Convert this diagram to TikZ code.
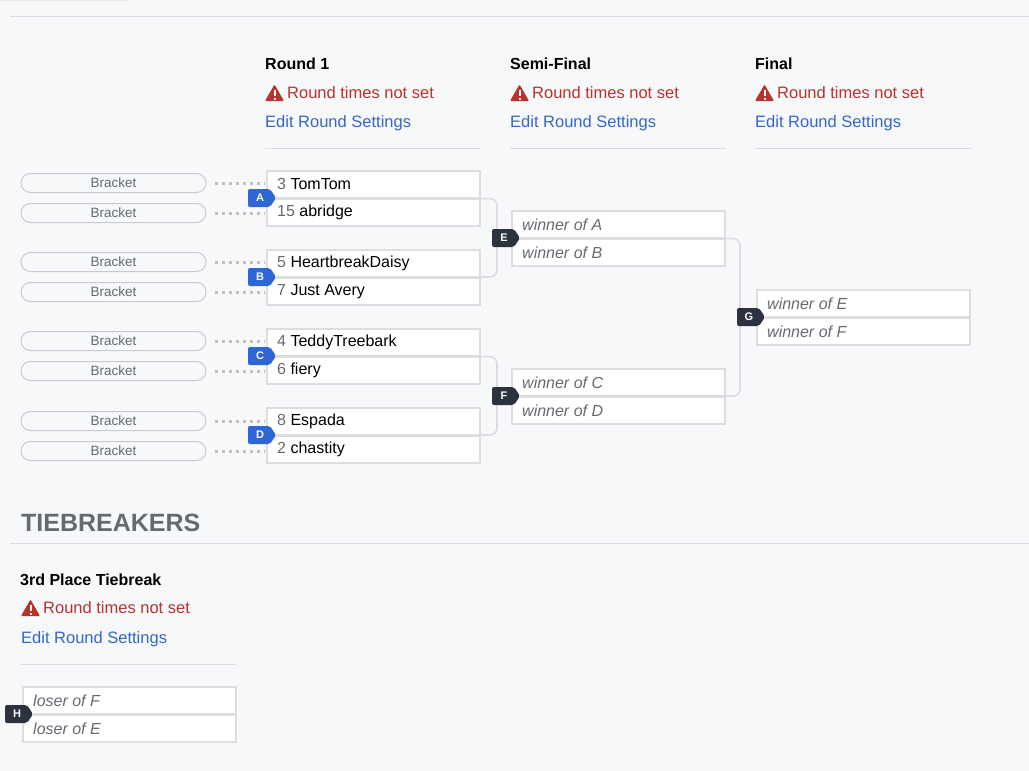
\documentclass[tikz,border=0pt]{standalone}
\usepackage{fontspec}
\setmainfont{Liberation Sans}
\usetikzlibrary{calc}
\definecolor{bg}{HTML}{F7F8FA}
\definecolor{warn}{HTML}{B8332E}
\definecolor{lnk}{HTML}{3567C8}
\definecolor{bd}{HTML}{DCDDE0}
\definecolor{blu}{HTML}{2E66D6}
\definecolor{drk}{HTML}{2C3240}
\definecolor{gtx}{HTML}{666A70}
\tikzset{
  row/.style={draw=bd,line width=1.6pt,fill=white,minimum width=213pt,minimum height=27pt,inner sep=0pt},
  pname/.style={anchor=west,inner sep=0pt,font=\fontsize{16}{16}\selectfont},
  tbd/.style={anchor=west,inner sep=0pt,font=\fontsize{16}{16}\selectfont\itshape,text=gtx},
  pill/.style={draw=bd!80!gray,line width=1pt,rounded corners=9.5pt,fill=bg,minimum width=185pt,minimum height=19pt,inner sep=0pt,font=\fontsize{13.5}{13.5}\selectfont,text=gtx},
  dots/.style={draw=bd!70!gray,line width=3pt,dash pattern=on 3pt off 4pt},
  conn/.style={draw=bd,line width=1.6pt,rounded corners=7pt},
  ttl/.style={anchor=west,inner sep=0pt,font=\fontsize{16}{16}\selectfont\bfseries},
  wtxt/.style={anchor=west,inner sep=0pt,font=\fontsize{16.5}{16.5}\selectfont,text=warn},
  edit/.style={anchor=west,inner sep=0pt,font=\fontsize{16.5}{16.5}\selectfont,text=lnk},
  sep/.style={draw=bd,line width=1pt}}
\newcommand{\mkbadge}[4]{%
  \fill[#4,rounded corners=2pt] (#1-14,#2-9) -- (#1+8,#2-9) -- (#1+14,#2) -- (#1+8,#2+9) -- (#1-14,#2+9) -- cycle;
  \node[text=white,font=\fontsize{11}{11}\selectfont\bfseries] (b#3) at (#1-2,#2) {#3};}
\newcommand{\mkwarn}[2]{%
  \fill[warn,rounded corners=1pt] (#1,#2+8) -- (#1+9.5,#2-8.5) -- (#1+19,#2+8) -- cycle;
  \fill[white] (#1+8.5,#2-3) rectangle (#1+10.5,#2+3);
  \fill[white] (#1+8.5,#2+4.5) rectangle (#1+10.5,#2+6.5);}
\newcommand{\mkhdr}[5]{%
  \node[ttl] (t#5) at (#1,#2) {#3};
  \mkwarn{#1}{#2+29}
  \node[wtxt] (w#5) at (#1+22,#2+29) {Round times not set};
  \node[edit] (e#5) at (#1,#2+59) {Edit Round Settings};
  \draw[sep] (#1,#2+84) -- (#4,#2+84);}
\newcommand{\mkmatch}[5]{%
  \node[row,anchor=north west] (#1a) at (#2,#3) {};
  \node[row,anchor=north west] (#1b) at (#2,#3+28) {};
  \node[pname] (#1ta) at ($(#1a.west)+(11,0)$) {#4};
  \node[pname] (#1tb) at ($(#1b.west)+(11,0)$) {#5};}
\newcommand{\mktmatch}[5]{%
  \node[row,anchor=north west] (#1a) at (#2,#3) {};
  \node[row,anchor=north west] (#1b) at (#2,#3+28) {};
  \node[tbd] (#1ta) at ($(#1a.west)+(11,0)$) {#4};
  \node[tbd] (#1tb) at ($(#1b.west)+(11,0)$) {#5};}
\begin{document}
\begin{tikzpicture}[x=1pt,y=-1pt]
\fill[bg] (0,0) rectangle (1029,771);
\useasboundingbox (0,0) rectangle (1029,771);
\fill[bd!60] (0,-4) rectangle (130,1);
\draw[sep] (10,16) -- (1029,16);
\mkhdr{265}{64}{Round 1}{481}{r1}
\mkhdr{510}{64}{Semi-Final}{726}{sf}
\mkhdr{755}{64}{Final}{971}{fi}
\mkmatch{A}{266}{170}{\textcolor{gtx}{3} TomTom}{\textcolor{gtx}{15} abridge}
\mkmatch{B}{266}{249}{\textcolor{gtx}{5} HeartbreakDaisy}{\textcolor{gtx}{7} Just Avery}
\mkmatch{C}{266}{328}{\textcolor{gtx}{4} TeddyTreebark}{\textcolor{gtx}{6} fiery}
\mkmatch{D}{266}{407}{\textcolor{gtx}{8} Espada}{\textcolor{gtx}{2} chastity}
\mktmatch{E}{511}{210}{winner of A}{winner of B}
\mktmatch{F}{511}{368}{winner of C}{winner of D}
\mktmatch{G}{756}{289}{winner of E}{winner of F}
\mktmatch{H}{22}{686}{loser of F}{loser of E}
\draw[conn] (Aa.south east) -| (497,277) -- (Bb.north east);
\draw[conn] (Ca.south east) -| (497,435) -- (Db.north east);
\draw[conn] (Ea.south east) -| (740,396) -- (Fb.north east);
\foreach \y/\n in {183/1,213/2,262/3,292/4,341/5,371/6,421/7,451/8}{
  \node[pill] (p\n) at (113.5,\y) {Bracket};
  \draw[dots] ($(p\n.east)+(8,0)$) -- (265,\y);
}
\mkbadge{262}{198}{A}{blu}
\mkbadge{262}{277}{B}{blu}
\mkbadge{262}{356}{C}{blu}
\mkbadge{262}{435}{D}{blu}
\mkbadge{506}{238}{E}{drk}
\mkbadge{751}{317}{G}{drk}
\mkbadge{506}{396}{F}{drk}
\mkbadge{19}{714}{H}{drk}
\node[anchor=west,inner sep=0pt,font=\fontsize{25}{25}\selectfont\bfseries,text=gtx] (tb) at (21,523) {TIEBREAKERS};
\draw[sep] (10,543) -- (1029,543);
\node[ttl] (t3) at (20,580) {3rd Place Tiebreak};
\mkwarn{21}{608}
\node[wtxt] (w3) at (43,608) {Round times not set};
\node[edit] (e3) at (21,639) {Edit Round Settings};
\draw[sep] (21,664) -- (236,664);
\end{tikzpicture}
\end{document}
